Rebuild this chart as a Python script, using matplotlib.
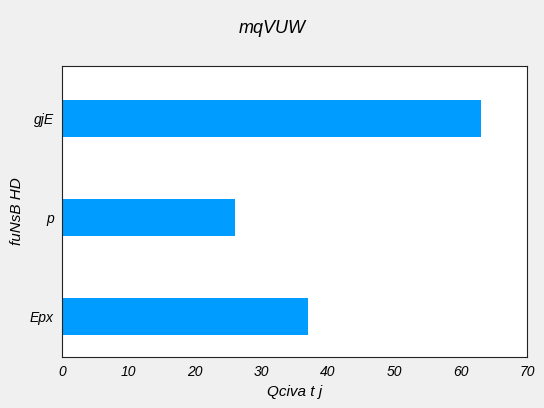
import matplotlib
matplotlib.use('Agg')
import matplotlib.pyplot as plt

categories = ["Epx", "p", "gjE"]
values = [37, 26, 63]
xticks = [0, 10, 20, 30, 40, 50, 60, 70]

plt.rcParams['font.family'] = ['Liberation Sans', 'DejaVu Sans']
plt.rcParams['font.style'] = 'italic'

fig = plt.figure(figsize=(5.44, 4.08), dpi=100, facecolor="#f0f0f0")
ax = fig.add_axes([0.114, 0.125, 0.855, 0.713])
ax.barh(range(len(categories)), values, height=0.37, color="#009cff")
ax.set_yticks(range(len(categories)))
ax.set_yticklabels(categories, fontsize=10)
ax.set_xticks(xticks)
ax.set_xticklabels([str(t) for t in xticks], fontsize=10)
ax.set_xlim(0, 70)
ax.set_ylim(-0.41, 2.53)
ax.tick_params(length=0, pad=6)
for s in ax.spines.values():
    s.set_color("#222222")
    s.set_linewidth(0.8)
ax.set_xlabel("Qciva t j", fontsize=11)
ax.set_ylabel("fuNsB HD", fontsize=11)
fig.suptitle("mqVUW", fontsize=13, y=0.95)
fig.savefig("out.png", facecolor=fig.get_facecolor())
